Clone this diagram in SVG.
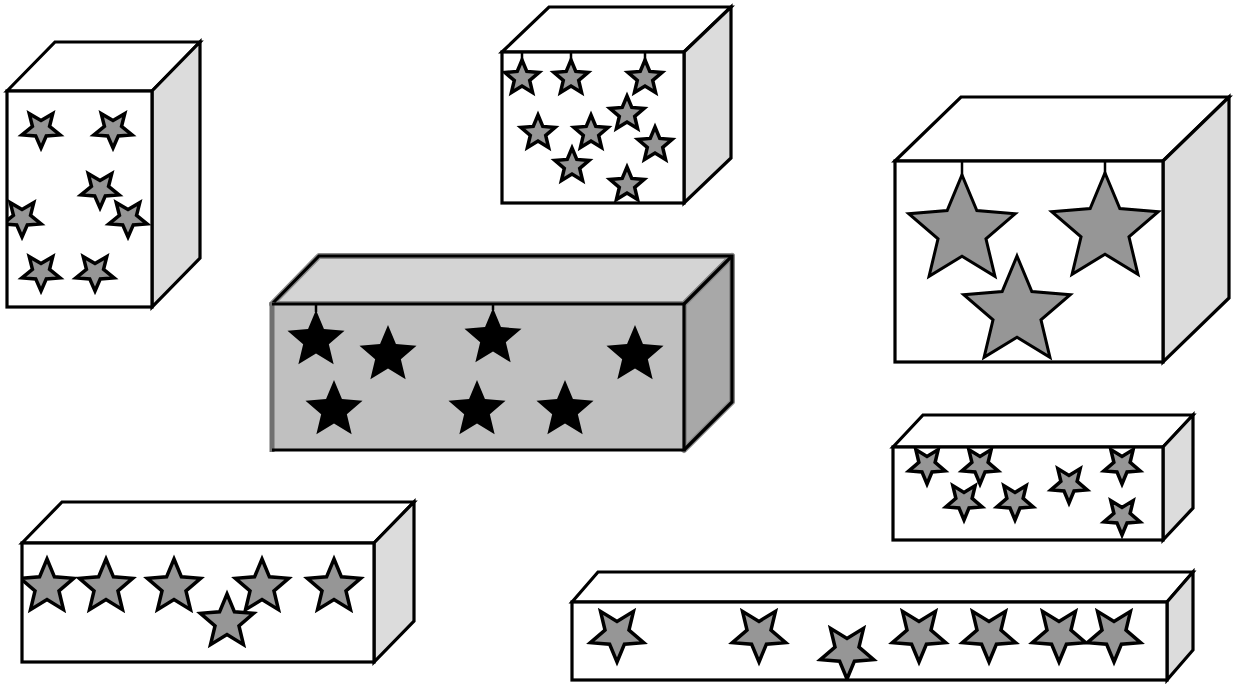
<svg xmlns="http://www.w3.org/2000/svg" xmlns:xlink="http://www.w3.org/1999/xlink" width="1235" height="684" viewBox="0 0 1235 684">
<style>
.face{fill:#fff;stroke:#000;stroke-width:3.2;stroke-linejoin:miter}
.side{fill:#dcdcdc;stroke:#000;stroke-width:3.2}
.edge{fill:none;stroke:#000;stroke-width:3.2}
.gs{fill:#969696;stroke:#000;stroke-width:3.5}
.gl{fill:#969696;stroke:#000;stroke-width:3}
.bs{fill:#000;stroke:none}
.stem{stroke:#000;stroke-width:2.5}
</style>
<defs>
<path id="s" vector-effect="non-scaling-stroke" d="M0,-1 L0.265,-0.364 L0.951,-0.309 L0.428,0.139 L0.588,0.809 L0,0.45 L-0.588,0.809 L-0.428,0.139 L-0.951,-0.309 L-0.265,-0.364 Z"/>
<clipPath id="c1"><rect x="7" y="91" width="145" height="216"/></clipPath>
<clipPath id="c2"><rect x="502" y="52" width="182" height="151"/></clipPath>
<clipPath id="c3"><rect x="895" y="161" width="268" height="201"/></clipPath>
<clipPath id="c5"><rect x="22" y="543" width="352" height="119"/></clipPath>
<clipPath id="c6"><rect x="893" y="447" width="270" height="93"/></clipPath>
<clipPath id="c7"><rect x="572" y="602" width="595" height="78"/></clipPath>
</defs>

<g id="box-tall-left">
<polygon class="face" points="7,91 55,42 200,42 152,91"/>
<polygon class="side" points="152,91 200,42 200,258 152,307"/>
<rect x="7" y="91" width="145" height="216" fill="#fff"/>
<g clip-path="url(#c1)">
<use xlink:href="#s" class="gs" transform="translate(41,129) scale(20,-19)"/>
<use xlink:href="#s" class="gs" transform="translate(113,129) scale(20,-19)"/>
<use xlink:href="#s" class="gs" transform="translate(100,189) scale(20,-19)"/>
<use xlink:href="#s" class="gs" transform="translate(22,218) scale(20,-19)"/>
<use xlink:href="#s" class="gs" transform="translate(128,218) scale(20,-19)"/>
<use xlink:href="#s" class="gs" transform="translate(41,272) scale(20,-19)"/>
<use xlink:href="#s" class="gs" transform="translate(95,272) scale(20,-19)"/>
</g>
<rect class="edge" x="7" y="91" width="145" height="216"/>
</g>

<g id="box-top-middle">
<polygon class="face" points="502,52 549,7 731,7 684,52"/>
<polygon class="side" points="684,52 731,7 731,158 684,203"/>
<rect x="502" y="52" width="182" height="151" fill="#fff"/>
<line class="stem" x1="522" y1="52" x2="522" y2="60"/>
<line class="stem" x1="571" y1="52" x2="571" y2="60"/>
<line class="stem" x1="645" y1="52" x2="645" y2="60"/>
<g clip-path="url(#c2)">
<use xlink:href="#s" class="gs" transform="translate(522,78) scale(18,18)"/>
<use xlink:href="#s" class="gs" transform="translate(571,78) scale(18,18)"/>
<use xlink:href="#s" class="gs" transform="translate(645,78) scale(18,18)"/>
<use xlink:href="#s" class="gs" transform="translate(627,114) scale(18,18)"/>
<use xlink:href="#s" class="gs" transform="translate(538,133) scale(18,18)"/>
<use xlink:href="#s" class="gs" transform="translate(591,133) scale(18,18)"/>
<use xlink:href="#s" class="gs" transform="translate(655,145) scale(18,18)"/>
<use xlink:href="#s" class="gs" transform="translate(572,166) scale(18,18)"/>
<use xlink:href="#s" class="gs" transform="translate(627,185) scale(18,18)"/>
</g>
<rect class="edge" x="502" y="52" width="182" height="151"/>
</g>

<g id="box-right-large">
<polygon class="face" points="895,161 961,97 1229,97 1163,161"/>
<polygon class="side" points="1163,161 1229,97 1229,298 1163,362"/>
<rect x="895" y="161" width="268" height="201" fill="#fff"/>
<line class="stem" x1="962" y1="161" x2="962" y2="176"/>
<line class="stem" x1="1105" y1="161" x2="1105" y2="174"/>
<g clip-path="url(#c3)">
<use xlink:href="#s" class="gl" transform="translate(962,231) scale(56,56)"/>
<use xlink:href="#s" class="gl" transform="translate(1105,229) scale(56,56)"/>
<use xlink:href="#s" class="gl" transform="translate(1017,312) scale(56,56)"/>
</g>
<rect class="edge" x="895" y="161" width="268" height="201"/>
</g>

<g id="box-center-dark">
<polygon points="272,304 319,256 732,256 684,304" fill="#d4d4d4" stroke="#8a8a8a" stroke-width="6" stroke-linejoin="round"/>
<polygon points="684,304 732,256 732,402 684,450" fill="#a8a8a8" stroke="#8a8a8a" stroke-width="6" stroke-linejoin="round"/>
<rect x="272" y="304" width="412" height="146" fill="#c0c0c0"/>
<polyline class="edge" points="272,304 319,256 732,256 732,402 684,450"/>
<line class="edge" x1="732" y1="256" x2="684" y2="304"/>
<line class="stem" x1="316" y1="304" x2="316" y2="312"/>
<line class="stem" x1="493" y1="304" x2="493" y2="310"/>
<use xlink:href="#s" class="bs" transform="translate(316,340) scale(30,30)"/>
<use xlink:href="#s" class="bs" transform="translate(388,355) scale(30,30)"/>
<use xlink:href="#s" class="bs" transform="translate(493,338) scale(30,30)"/>
<use xlink:href="#s" class="bs" transform="translate(635,355) scale(30,30)"/>
<use xlink:href="#s" class="bs" transform="translate(334,410) scale(30,30)"/>
<use xlink:href="#s" class="bs" transform="translate(477,410) scale(30,30)"/>
<use xlink:href="#s" class="bs" transform="translate(565,410) scale(30,30)"/>
<line x1="272" y1="302" x2="272" y2="452" stroke="#707070" stroke-width="5"/>
<polyline class="edge" points="272,304 684,304 684,450 272,450"/>
</g>

<g id="box-bottom-left">
<polygon class="face" points="22,543 62,502 414,502 374,543"/>
<polygon class="side" points="374,543 414,502 414,621 374,662"/>
<rect x="22" y="543" width="352" height="119" fill="#fff"/>
<g clip-path="url(#c5)">
<use xlink:href="#s" class="gs" transform="translate(47,587) scale(28,28)"/>
<use xlink:href="#s" class="gs" transform="translate(106,587) scale(28,28)"/>
<use xlink:href="#s" class="gs" transform="translate(174,587) scale(28,28)"/>
<use xlink:href="#s" class="gs" transform="translate(262,587) scale(28,28)"/>
<use xlink:href="#s" class="gs" transform="translate(334,587) scale(28,28)"/>
<use xlink:href="#s" class="gs" transform="translate(227,622) scale(28,28)"/>
</g>
<rect class="edge" x="22" y="543" width="352" height="119"/>
</g>

<g id="box-right-small">
<polygon class="face" points="893,447 923,415 1193,415 1163,447"/>
<polygon class="side" points="1163,447 1193,415 1193,508 1163,540"/>
<rect x="893" y="447" width="270" height="93" fill="#fff"/>
<g clip-path="url(#c6)">
<use xlink:href="#s" class="gs" transform="translate(927,465) scale(19,-19)"/>
<use xlink:href="#s" class="gs" transform="translate(980,465) scale(19,-19)"/>
<use xlink:href="#s" class="gs" transform="translate(964,501) scale(19,-19)"/>
<use xlink:href="#s" class="gs" transform="translate(1015,501) scale(19,-19)"/>
<use xlink:href="#s" class="gs" transform="translate(1069,484) scale(19,-19)"/>
<use xlink:href="#s" class="gs" transform="translate(1122,465) scale(19,-19)"/>
<use xlink:href="#s" class="gs" transform="translate(1122,516) scale(19,-19)"/>
</g>
<rect class="edge" x="893" y="447" width="270" height="93"/>
</g>

<g id="box-bottom-long">
<polygon class="face" points="572,602 598,572 1193,572 1167,602"/>
<polygon class="side" points="1167,602 1193,572 1193,650 1167,680"/>
<rect x="572" y="602" width="595" height="78" fill="#fff"/>
<g clip-path="url(#c7)">
<use xlink:href="#s" class="gs" transform="translate(617,634) scale(28,-28)"/>
<use xlink:href="#s" class="gs" transform="translate(759,634) scale(28,-28)"/>
<use xlink:href="#s" class="gs" transform="translate(847,651) scale(28,-28)"/>
<use xlink:href="#s" class="gs" transform="translate(919,634) scale(28,-28)"/>
<use xlink:href="#s" class="gs" transform="translate(989,634) scale(28,-28)"/>
<use xlink:href="#s" class="gs" transform="translate(1059,634) scale(28,-28)"/>
<use xlink:href="#s" class="gs" transform="translate(1114,634) scale(28,-28)"/>
</g>
<rect class="edge" x="572" y="602" width="595" height="78"/>
</g>
</svg>
